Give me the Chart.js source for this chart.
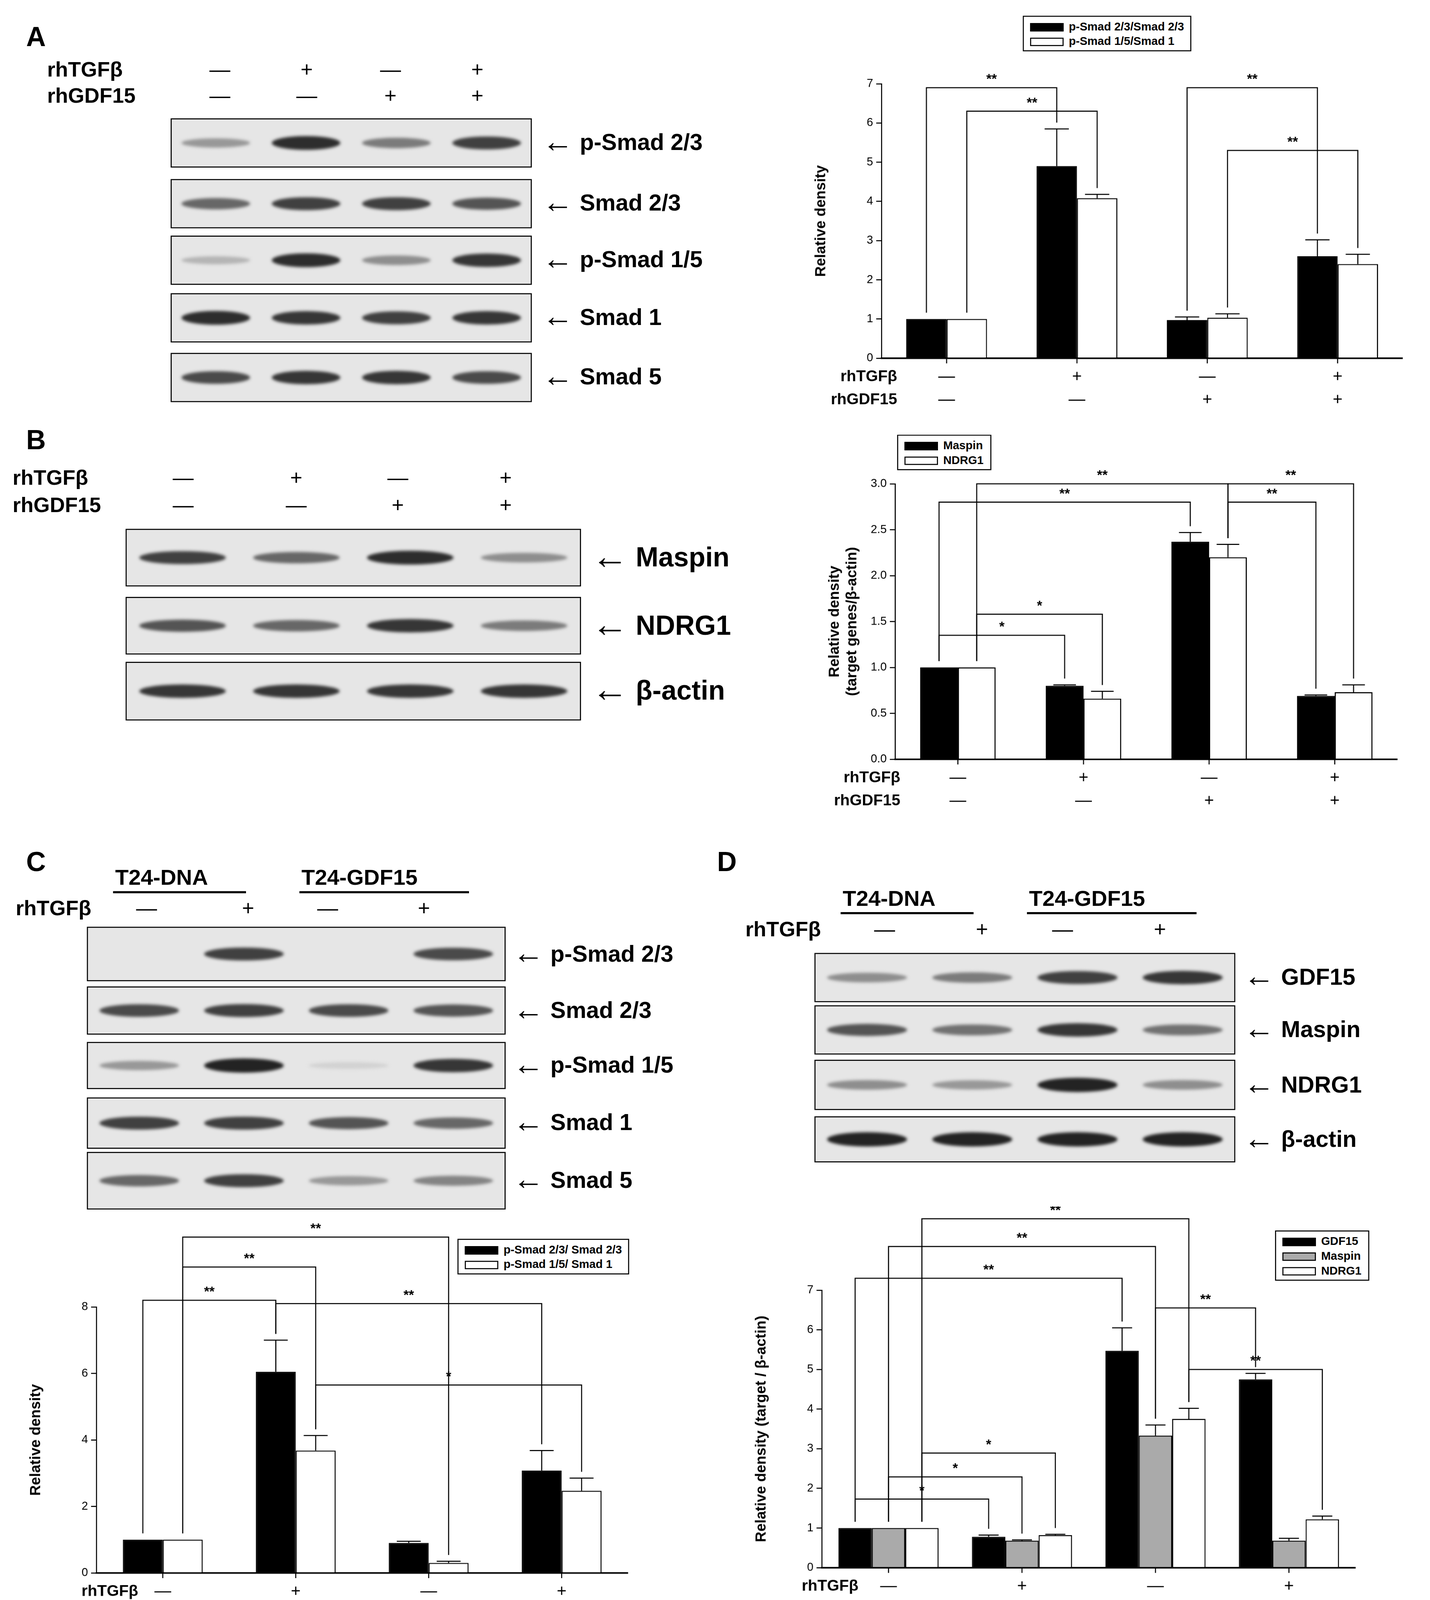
<!DOCTYPE html>
<html>
<head>
<meta charset="utf-8">
<script src="https://cdn.jsdelivr.net/npm/chart.js"></script>
<style>
  body { margin: 0; background: #fff; }
  #page { position: absolute; left: 0; top: 0; width: 1366px; height: 1573px; transform: scale(2.6808); transform-origin: 0 0; font-family: "Liberation Sans", Arial, sans-serif; }
  .t { position: absolute; white-space: nowrap; font-weight: bold; color: #000; }
  .t .ar { font-size: 1.35em; line-height: 0.8; vertical-align: -0.06em; }
  .lg { position: absolute; border: 1px solid #000; background: #fff; font-size: 11px; font-weight: bold; padding: 2px 6px; }
  .lg div { height: 14px; line-height: 14px; }
  .sw { display: inline-block; width: 30px; height: 6px; border: 1px solid #000; margin-right: 5px; vertical-align: middle; }
  .ul { position: absolute; height: 2px; background: #000; }
</style>
</head>
<body>
<div id="page"></div>
<script>
// ---- data ----
var groups = ['g1', 'g2', 'g3', 'g4'];

var aSmad23 = [1, 4.9, 0.97, 2.6];
var aSmad23Err = [0, 0.95, 0.08, 0.42];
var aSmad15 = [1, 4.08, 1.03, 2.4];
var aSmad15Err = [0, 0.1, 0.1, 0.25];

var bMaspin = [1, 0.8, 2.37, 0.69];
var bMaspinErr = [0, 0.01, 0.1, 0.01];
var bNdrg1 = [1, 0.66, 2.2, 0.73];
var bNdrg1Err = [0, 0.08, 0.14, 0.08];

var cSmad23 = [1, 6.05, 0.9, 3.08];
var cSmad23Err = [0, 0.95, 0.05, 0.6];
var cSmad15 = [1, 3.68, 0.3, 2.47];
var cSmad15Err = [0, 0.45, 0.05, 0.38];

var dGdf15 = [1, 0.78, 5.47, 4.75];
var dGdf15Err = [0, 0.04, 0.58, 0.15];
var dMaspin = [1, 0.68, 3.33, 0.68];
var dMaspinErr = [0, 0.02, 0.27, 0.06];
var dNdrg1 = [1, 0.82, 3.75, 1.22];
var dNdrg1Err = [0, 0.02, 0.27, 0.08];

var tgfSigns = ['\u2014', '+', '\u2014', '+'];
var gdfSigns = ['\u2014', '\u2014', '+', '+'];

// significance brackets: [groupFrom, seriesFrom, groupTo, seriesTo, level, label]
var aBrackets = [[0,0,1,0,6.9,'**'], [0,1,1,1,6.3,'**'], [2,0,3,0,6.9,'**'], [2,1,3,1,5.3,'**']];
var bBrackets = [[0,1,2,1,3.0,'**'], [0,0,2,0,2.8,'**'], [2,1,3,1,3.0,'**'], [2,1,3,0,2.8,'**'], [0,0,1,0,1.35,'*'], [0,1,1,1,1.58,'*']];
var cBrackets = [[0,1,2,1,10.1,'**'], [0,1,1,1,9.2,'**'], [0,0,1,0,8.2,'**'], [1,0,3,0,8.1,'**'], [1,1,3,1,5.65,'*']];
var dBrackets = [[0,2,2,2,8.8,'**'], [0,1,2,1,8.1,'**'], [0,0,2,0,7.3,'**'], [2,1,3,0,6.55,'**'], [2,2,3,2,5.0,'**'], [0,2,1,2,2.89,'*'], [0,1,1,1,2.29,'*'], [0,0,1,0,1.73,'*']];

// blot band intensities per lane
var blotA = [[0.35,0.9,0.5,0.8],[0.6,0.8,0.8,0.7],[0.2,0.9,0.4,0.85],[0.9,0.85,0.8,0.85],[0.75,0.85,0.85,0.75]];
var blotB = [[0.8,0.6,0.9,0.4],[0.7,0.6,0.85,0.5],[0.85,0.85,0.85,0.85]];
var blotC = [[0,0.8,0,0.75],[0.75,0.8,0.75,0.7],[0.35,0.95,0.05,0.85],[0.8,0.8,0.7,0.6],[0.6,0.8,0.35,0.45]];
var blotD = [[0.4,0.5,0.8,0.85],[0.7,0.55,0.85,0.55],[0.4,0.35,0.95,0.4],[0.95,0.95,0.95,0.95]];

var page = document.getElementById('page');
function txt(s, x, y, size, extra) {
  var d = document.createElement('div');
  d.className = 't';
  d.textContent = s;
  d.style.left = x + 'px'; d.style.top = y + 'px'; d.style.fontSize = size + 'px';
  if (extra) d.style.cssText += extra;
  page.appendChild(d);
  return d;
}
function line(x, y, w) {
  var d = document.createElement('div');
  d.className = 'ul';
  d.style.left = x + 'px'; d.style.top = y + 'px'; d.style.width = w + 'px';
  page.appendChild(d);
}
function sign(s, x, y, size) {
  txt(s, x - 10, y, size, 'width:20px;text-align:center;font-weight:normal;');
}

function blot(x, y, w, h, lanes, labelText, labelX, size) {
  var c = document.createElement('canvas');
  var k = 3;
  c.width = w * k; c.height = h * k;
  c.style.cssText = 'position:absolute;left:' + x + 'px;top:' + y + 'px;width:' + w + 'px;height:' + h + 'px;';
  page.appendChild(c);
  var ctx = c.getContext('2d');
  ctx.scale(k, k);
  ctx.fillStyle = '#e6e6e6';
  ctx.fillRect(0, 0, w, h);
  var lw = w / 4;
  ctx.filter = 'blur(4px)';
  lanes.forEach(function(v, i) {
    if (v <= 0) return;
    var g = Math.round(220 - 195 * v);
    ctx.fillStyle = 'rgb(' + g + ',' + g + ',' + g + ')';
    ctx.beginPath();
    ctx.ellipse(lw * (i + 0.5), h / 2, lw * 0.38, 3 + 4 * v, 0, 0, Math.PI * 2);
    ctx.fill();
  });
  ctx.filter = 'none';
  ctx.strokeStyle = '#000'; ctx.lineWidth = 1;
  ctx.strokeRect(0.5, 0.5, w - 1, h - 1);
  var d = txt('', labelX, y + h / 2 - size * 0.6, size);
  d.innerHTML = '<span class="ar">\u2190</span> ' + labelText;
}

function legend(x, y, items) {
  var d = document.createElement('div');
  d.className = 'lg';
  d.style.left = x + 'px'; d.style.top = y + 'px';
  items.forEach(function(it) {
    var r = document.createElement('div');
    r.innerHTML = '<span class="sw" style="background:' + it[1] + '"></span>' + it[0];
    d.appendChild(r);
  });
  page.appendChild(d);
}

var extras = {
  id: 'extras',
  afterDatasetsDraw: function(chart) {
    var o = chart.options.plugins.extras;
    var ctx = chart.ctx, y = chart.scales.y, x = chart.scales.x;
    ctx.save();
    ctx.strokeStyle = '#000'; ctx.lineWidth = 1; ctx.fillStyle = '#000';
    // error bars
    chart.data.datasets.forEach(function(ds, di) {
      var meta = chart.getDatasetMeta(di);
      ds.err.forEach(function(e, i) {
        if (!e) return;
        var b = meta.data[i];
        var top = y.getPixelForValue(ds.data[i] + e);
        ctx.beginPath();
        ctx.moveTo(b.x, b.y); ctx.lineTo(b.x, top);
        ctx.moveTo(b.x - b.width * 0.3, top); ctx.lineTo(b.x + b.width * 0.3, top);
        ctx.stroke();
      });
    });
    // x tick marks at category centres
    groups.forEach(function(g, i) {
      var px = x.getPixelForValue(i);
      ctx.beginPath(); ctx.moveTo(px, chart.chartArea.bottom); ctx.lineTo(px, chart.chartArea.bottom + 5); ctx.stroke();
    });
    // brackets
    ctx.font = 'bold 13px "Liberation Sans"';
    ctx.textAlign = 'center'; ctx.textBaseline = 'bottom';
    o.brackets.forEach(function(br) {
      var ds1 = chart.data.datasets[br[1]], ds2 = chart.data.datasets[br[3]];
      var p1 = chart.getDatasetMeta(br[1]).data[br[0]], p2 = chart.getDatasetMeta(br[3]).data[br[2]];
      var t1 = y.getPixelForValue(ds1.data[br[0]] + ds1.err[br[0]]) - 6;
      var t2 = y.getPixelForValue(ds2.data[br[2]] + ds2.err[br[2]]) - 6;
      var ly = y.getPixelForValue(br[4]);
      ctx.beginPath();
      ctx.moveTo(p1.x, t1); ctx.lineTo(p1.x, ly); ctx.lineTo(p2.x, ly); ctx.lineTo(p2.x, t2);
      ctx.stroke();
      ctx.fillText(br[5], (p1.x + p2.x) / 2, ly - 1);
    });
    // bottom rows
    ctx.textBaseline = 'middle';
    o.rows.forEach(function(row, r) {
      var ry = chart.chartArea.bottom + 18 + r * 22;
      ctx.font = 'bold 15px "Liberation Sans"';
      ctx.textAlign = 'right';
      ctx.fillText(row[0], chart.chartArea.left + o.rowNameX, ry);
      ctx.textAlign = 'center';
      if (row[1].length === 4) {
        ctx.font = '16px "Liberation Sans"';
        row[1].forEach(function(s, i) { ctx.fillText(s, x.getPixelForValue(i), ry); });
      } else {
        ctx.font = 'bold 16px "Liberation Sans"';
        row[1].forEach(function(s, i) { ctx.fillText(s, (x.getPixelForValue(2 * i) + x.getPixelForValue(2 * i + 1)) / 2, ry); });
      }
    });
    ctx.restore();
  }
};

function chart(cfg) {
  var padL = 70, padTop = cfg.padTop, padBot = 55;
  var left = cfg.axisX - padL, top = cfg.topY - padTop;
  var w = cfg.rightX - left, h = cfg.zeroY - top + padBot;
  var wrap = document.createElement('div');
  wrap.style.cssText = 'position:absolute;left:' + left + 'px;top:' + top + 'px;width:' + w + 'px;height:' + h + 'px;';
  var c = document.createElement('canvas');
  wrap.appendChild(c);
  page.appendChild(wrap);
  new Chart(c, {
    type: 'bar',
    data: { labels: groups, datasets: cfg.datasets.map(function(d) {
      return { data: d[0], err: d[1], backgroundColor: d[2], borderColor: '#000', borderWidth: 1, categoryPercentage: cfg.cat, barPercentage: 1 };
    }) },
    options: {
      animation: false, responsive: true, maintainAspectRatio: false, devicePixelRatio: 3,
      layout: { padding: { top: padTop, bottom: padBot, left: 0, right: 0 } },
      scales: {
        x: { ticks: { display: false }, grid: { display: false }, border: { color: '#000', width: 1.5 } },
        y: { min: 0, max: cfg.max, ticks: { stepSize: cfg.step, color: '#000', font: { size: 11, family: 'Liberation Sans' },
               callback: function(v) { return cfg.fixed ? v.toFixed(1) : v; } },
             grid: { drawOnChartArea: false, tickLength: 5, color: '#000' }, border: { color: '#000' },
             title: { display: true, text: cfg.ytitle, color: '#000', font: { size: 14, weight: 'bold', family: 'Liberation Sans' } },
             afterFit: function(s) { s.width = padL; } }
      },
      plugins: { legend: { display: false }, tooltip: { enabled: false },
        extras: { brackets: cfg.brackets, rows: cfg.rows, rowNameX: cfg.rowNameX } }
    },
    plugins: [extras]
  });
}

// ---- Panel A ----
txt('A', 25, 20, 26);
txt('rhTGF\u03b2', 45, 55, 20); txt('rhGDF15', 45, 80, 20);
[210, 293, 373, 456].forEach(function(x, i) { sign(tgfSigns[i], x, 55, 20); sign(gdfSigns[i], x, 80, 20); });
var aRows = [[113,47],[171,47],[225,47],[280,47],[337,47]];
var aNames = ['p-Smad 2/3', 'Smad 2/3', 'p-Smad 1/5', 'Smad 1', 'Smad 5'];
aRows.forEach(function(r, i) { blot(163, r[0], 345, r[1], blotA[i], aNames[i], 518, 22); });
legend(977, 15, [['p-Smad 2/3/Smad 2/3', '#000'], ['p-Smad 1/5/Smad 1', '#fff']]);
chart({ axisX: 842, topY: 80, zeroY: 350, rightX: 1340, padTop: 20, max: 7, step: 1, cat: 0.62,
  ytitle: 'Relative density', brackets: aBrackets, rowNameX: 15,
  rows: [['rhTGF\u03b2', tgfSigns], ['rhGDF15', gdfSigns]],
  datasets: [[aSmad23, aSmad23Err, '#000'], [aSmad15, aSmad15Err, '#fff']] });

// ---- Panel B ----
txt('B', 25, 405, 26);
txt('rhTGF\u03b2', 12, 445, 20); txt('rhGDF15', 12, 471, 20);
[175, 283, 380, 483].forEach(function(x, i) { sign(tgfSigns[i], x, 445, 20); sign(gdfSigns[i], x, 471, 20); });
var bRows = [[505,55],[570,55],[632,56]];
var bNames = ['Maspin', 'NDRG1', '\u03b2-actin'];
bRows.forEach(function(r, i) { blot(120, r[0], 435, r[1], blotB[i], bNames[i], 565, 26); });
legend(857, 415, [['Maspin', '#000'], ['NDRG1', '#fff']]);
chart({ axisX: 855, topY: 462, zeroY: 733, rightX: 1335, padTop: 30, max: 3, step: 0.5, fixed: true, cat: 0.6,
  ytitle: ['Relative density', '(target genes/\u03b2-actin)'], brackets: bBrackets, rowNameX: 5,
  rows: [['rhTGF\u03b2', tgfSigns], ['rhGDF15', gdfSigns]],
  datasets: [[bMaspin, bMaspinErr, '#000'], [bNdrg1, bNdrg1Err, '#fff']] });

// ---- Panel C ----
txt('C', 25, 808, 26);
txt('T24-DNA', 110, 826, 21); line(108, 851, 127);
txt('T24-GDF15', 288, 826, 21); line(286, 851, 162);
txt('rhTGF\u03b2', 15, 856, 20);
[140, 237, 313, 405].forEach(function(x, i) { sign(tgfSigns[i], x, 856, 20); });
var cRows = [[885,52],[942,46],[995,45],[1048,49],[1100,55]];
cRows.forEach(function(r, i) { blot(83, r[0], 400, r[1], blotC[i], aNames[i], 490, 22); });
legend(437, 1183, [['p-Smad 2/3/ Smad 2/3', '#000'], ['p-Smad 1/5/ Smad 1', '#fff']]);
chart({ axisX: 92, topY: 1248, zeroY: 1510, rightX: 600, padTop: 80, max: 8, step: 2, cat: 0.6,
  ytitle: 'Relative density', brackets: cBrackets, rowNameX: 40,
  rows: [['rhTGF\u03b2', tgfSigns], ['', ['T24-DNA', 'T24-GDF15']]],
  datasets: [[cSmad23, cSmad23Err, '#000'], [cSmad15, cSmad15Err, '#fff']] });

// ---- Panel D ----
txt('D', 685, 808, 26);
txt('T24-DNA', 805, 846, 21); line(803, 871, 127);
txt('T24-GDF15', 983, 846, 21); line(981, 871, 162);
txt('rhTGF\u03b2', 712, 876, 20);
[845, 938, 1015, 1108].forEach(function(x, i) { sign(tgfSigns[i], x, 876, 20); });
var dRows = [[910,47],[960,47],[1012,48],[1066,44]];
var dNames = ['GDF15', 'Maspin', 'NDRG1', '\u03b2-actin'];
dRows.forEach(function(r, i) { blot(778, r[0], 402, r[1], blotD[i], dNames[i], 1188, 22); });
legend(1218, 1175, [['GDF15', '#000'], ['Maspin', '#aaa'], ['NDRG1', '#fff']]);
chart({ axisX: 785, topY: 1232, zeroY: 1505, rightX: 1295, padTop: 80, max: 7, step: 1, cat: 0.75,
  ytitle: 'Relative density (target / \u03b2-actin)', brackets: dBrackets, rowNameX: 35,
  rows: [['rhTGF\u03b2', tgfSigns], ['', ['T24-DNA', 'T24-GDF15']]],
  datasets: [[dGdf15, dGdf15Err, '#000'], [dMaspin, dMaspinErr, '#aaa'], [dNdrg1, dNdrg1Err, '#fff']] });
</script>
</body>
</html>
